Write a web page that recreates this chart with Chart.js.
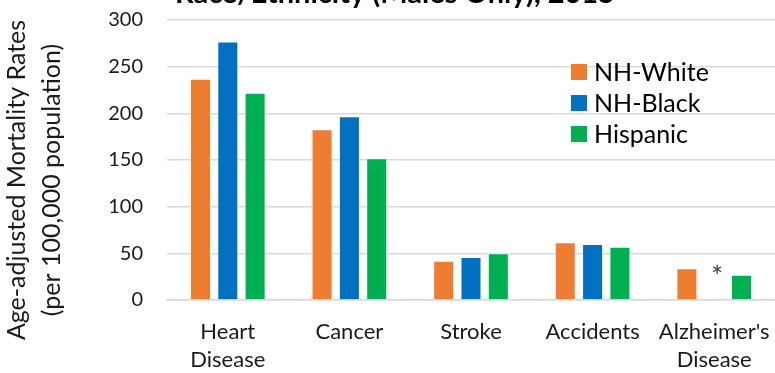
<!DOCTYPE html>
<html><head><meta charset="utf-8">
<script src="https://cdn.jsdelivr.net/npm/chart.js@4/dist/chart.umd.min.js"></script>
<style>html,body{margin:0;padding:0;background:#fff;overflow:hidden}#wrap{width:775px;height:373px;position:relative}</style>
</head><body><div id="wrap"><canvas id="c" width="775" height="373"></canvas></div>
<script>
const categories = [["Heart","Disease"], "Cancer", "Stroke", "Accidents", ["Alzheimer's","Disease"]];
const seriesNames = ["NH-White", "NH-Black", "Hispanic"];
const nhWhite = [237, 183, 42, 62, 34];
const nhBlack = [277, 197, 46, 60, null];
const hispanic = [222, 152, 50, 57, 27];
const yTicks = [0, 50, 100, 150, 200, 250, 300];
const colors = ["#ED7D31", "#0070C0", "#00B050"];
const titleText = "Race/Ethnicity (Males Only), 2015";
const yTitle = ["Age-adjusted Mortality Rates", "(per 100,000 population)"];
const FONT = "Lato, 'Open Sans', sans-serif";
const TXT = "#1a1a1a";

const overlay = {
  id: 'overlay',
  afterDraw(chart) {
    const ctx = chart.ctx;
    ctx.save();
    ctx.fillStyle = "#000";
    ctx.font = "bold 29px " + FONT;
    ctx.textAlign = "center";
    ctx.textBaseline = "alphabetic";
    ctx.fillText(titleText, 395, 3);
    // y-axis title
    ctx.save();
    ctx.translate(0, 180);
    ctx.rotate(-Math.PI / 2);
    ctx.font = "25px " + FONT;
    ctx.fillStyle = TXT;
    ctx.textAlign = "center";
    ctx.textBaseline = "middle";
    yTitle.forEach((t, i) => ctx.fillText(t, 0, 17 + i * 35));
    ctx.restore();
    // legend
    ctx.font = "25px " + FONT;
    ctx.textAlign = "left";
    ctx.textBaseline = "middle";
    chart.data.datasets.forEach((ds, i) => {
      const y = 72 + i * 31;
      ctx.fillStyle = ds.backgroundColor;
      ctx.fillRect(571, y - 8, 16, 16);
      ctx.fillStyle = "#000";
      ctx.fillText(ds.label, 594, y + 1);
    });
    // asterisk marking the missing NH-Black value
    const el = chart.getDatasetMeta(1).data[4];
    const ys = chart.scales.y;
    ctx.fillStyle = "#404040";
    ctx.font = "28px " + FONT;
    ctx.textAlign = "center";
    ctx.fillText("*", el.x + 3, ys.getPixelForValue(24));
    ctx.restore();
  }
};
const bg = {
  id: 'bg',
  beforeDraw(chart) { const c = chart.ctx; c.save(); c.fillStyle = '#fff'; c.fillRect(0,0,chart.width,chart.height); c.restore(); }
};

new Chart(document.getElementById('c'), {
  type: 'bar',
  data: {
    labels: categories,
    datasets: [nhWhite, nhBlack, hispanic].map((d, i) => ({
      label: seriesNames[i], data: d, backgroundColor: colors[i],
      borderColor: 'rgba(255,255,255,0.6)', borderWidth: 1,
      barPercentage: 0.77, categoryPercentage: 0.674
    }))
  },
  options: {
    responsive: false, animation: false,
    layout: { padding: { top: 20, right: 0, left: 0, bottom: 0 } },
    plugins: { legend: { display: false }, tooltip: { enabled: false }, title: { display: false } },
    scales: {
      x: {
        grid: { display: false, drawTicks: false },
        border: { display: true, color: '#d9d9d9', width: 1.5 },
        ticks: { color: TXT, font: { family: FONT, size: 22, lineHeight: 1.27 }, padding: 18, maxRotation: 0, autoSkip: false },
        afterFit(s) { s.height = 73; s.paddingLeft = 0; s.paddingRight = 0; }
      },
      y: {
        min: 0, max: 300,
        afterBuildTicks(s) { s.ticks = yTicks.map(v => ({ value: v })); },
        grid: { color: '#d9d9d9', lineWidth: 1.5, drawTicks: false },
        border: { display: false },
        ticks: { color: TXT, font: { family: FONT, size: 20 }, padding: 24 },
        title: { display: false },
        afterFit(s) { s.width = 167; s.paddingTop = 0; s.paddingBottom = 0; }
      }
    }
  },
  plugins: [bg, overlay]
});
</script></body></html>
